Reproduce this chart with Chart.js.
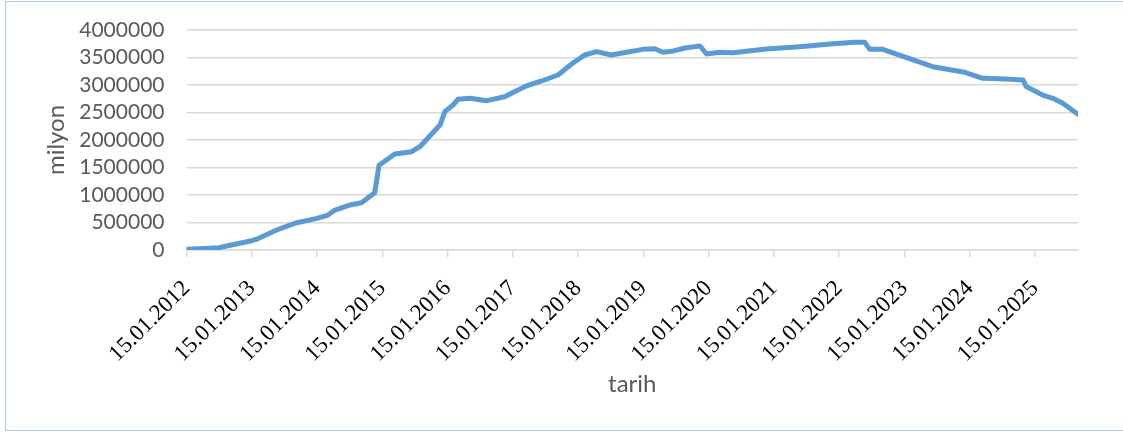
<!DOCTYPE html>
<html>
<head>
<meta charset="utf-8">
<script src="https://cdn.jsdelivr.net/npm/chart.js@4.4.1/dist/chart.umd.min.js"></script>
<style>
  html, body { margin: 0; padding: 0; background: #ffffff; }
  #wrap { position: relative; width: 1123px; height: 434px; }
  #frame { position: absolute; left: 5px; top: 1px; width: 1200px; height: 430px;
           border: 1.5px solid #a9c9e8; box-sizing: border-box; pointer-events: none; }
  canvas { position: absolute; left: 0; top: 0; }
</style>
</head>
<body>
<div id="wrap">
  <canvas id="c" width="1123" height="434"></canvas>
  <div id="frame"></div>
</div>
<script>
// Dates (dd.mm.yyyy)
const dates = [
  "15.01.2012","15.07.2012","02.09.2012","15.01.2013","15.02.2013","02.06.2013",
  "23.09.2013","15.01.2014","15.03.2014","24.04.2014","15.07.2014","20.09.2014",
  "03.12.2014","27.12.2014","12.01.2015","24.03.2015","27.06.2015","12.08.2015",
  "03.12.2015","30.12.2015","15.02.2016","12.03.2016","18.05.2016","21.08.2016",
  "30.11.2016","05.02.2017","30.03.2017","24.06.2017","24.09.2017","09.12.2017",
  "21.02.2018","27.04.2018","18.07.2018","12.10.2018","12.01.2019","18.03.2019",
  "03.05.2019","21.06.2019","03.09.2019","27.11.2019","03.01.2020","15.03.2020",
  "30.05.2020","03.12.2020","06.06.2021","12.12.2021","09.04.2022","06.06.2022",
  "03.07.2022","15.09.2022","03.03.2023","21.06.2023","18.12.2023","27.03.2024",
  "06.08.2024","09.11.2024","27.11.2024","27.02.2025","24.04.2025","18.06.2025",
  "12.09.2025"
];
// Values (milyon)
const values = [
  15000, 42000, 78000, 169000, 200000, 364000,
  496000, 576000, 636000, 727000, 818000, 860000,
  1042000, 1545000, 1576000, 1745000, 1787000, 1878000,
  2272000, 2515000, 2636000, 2740000, 2758000, 2715000,
  2787000, 2896000, 2982000, 3073000, 3182000, 3382000,
  3545000, 3606000, 3545000, 3594000, 3648000, 3660000,
  3594000, 3612000, 3672000, 3709000, 3564000, 3594000,
  3587000, 3655000, 3697000, 3751000, 3776000, 3776000,
  3649000, 3649000, 3455000, 3333000, 3231000, 3122000,
  3110000, 3091000, 2970000, 2818000, 2758000, 2667000,
  2467000
];
// Axis tick labels
const tickLabels = ["15.01.2012","15.01.2013","15.01.2014","15.01.2015","15.01.2016",
  "15.01.2017","15.01.2018","15.01.2019","15.01.2020","15.01.2021","15.01.2022",
  "15.01.2023","15.01.2024","15.01.2025"];
const yTicks = [0, 500000, 1000000, 1500000, 2000000, 2500000, 3000000, 3500000, 4000000];

function monthIndex(s) {
  const [d, m, y] = s.split(".").map(Number);
  return (y - 2012) * 12 + (m - 1) + (d - 15) / 30.5;
}
const points = dates.map((d, i) => ({ x: monthIndex(d), y: values[i] }));
const xMax = points[points.length - 1].x;

new Chart(document.getElementById("c"), {
  type: "line",
  data: {
    datasets: [{
      data: points,
      borderColor: "#5b9bd5",
      borderWidth: 5,
      pointRadius: 0,
      tension: 0,
      borderJoinStyle: "round",
      borderCapStyle: "round",
      fill: false
    }]
  },
  options: {
    responsive: false,
    animation: false,
    events: [],
    layout: { padding: { left: 0, right: 45, top: 30, bottom: 0 } },
    plugins: { legend: { display: false }, tooltip: { enabled: false } },
    scales: {
      x: {
        type: "linear",
        min: 0,
        max: xMax,
        afterFit: s => { s.height = 184; },
        afterBuildTicks: s => {
          s.ticks = tickLabels.map((t, i) => ({ value: i * 12 }));
        },
        ticks: {
          autoSkip: false,
          minRotation: 45,
          maxRotation: 45,
          padding: 18,
          color: "#000000",
          font: { family: "'Liberation Serif', 'Times New Roman', serif", size: 23 },
          callback: (v) => {
            const i = Math.round(v / 12);
            return (Math.abs(v - i * 12) < 1e-6 && tickLabels[i]) ? tickLabels[i] : null;
          }
        },
        grid: { display: true, drawOnChartArea: false, drawTicks: true, tickLength: 7,
                color: "#d9d9d9", lineWidth: 1.5 },
        border: { display: true, color: "#d9d9d9", width: 1.5 },
        title: {
          display: true, text: "tarih", color: "#595959",
          font: { family: "Lato", size: 24 },
          padding: { top: 0, bottom: 35 }
        }
      },
      y: {
        min: 0,
        max: 4000000,
        afterFit: s => { s.width = 186.5; s.paddingTop = 0; s.paddingBottom = 0; },
        afterBuildTicks: s => { s.ticks = yTicks.map(v => ({ value: v })); },
        ticks: {
          autoSkip: false,
          padding: 22,
          color: "#595959",
          font: { family: "Lato", size: 21 },
          callback: v => String(v)
        },
        grid: { color: "#d9d9d9", lineWidth: 1.5, drawTicks: false },
        border: { display: false },
        title: {
          display: true, text: "milyon", color: "#595959",
          font: { family: "Lato", size: 24 },
          padding: { top: 42, bottom: 0 }
        }
      }
    }
  }
});
</script>
</body>
</html>
